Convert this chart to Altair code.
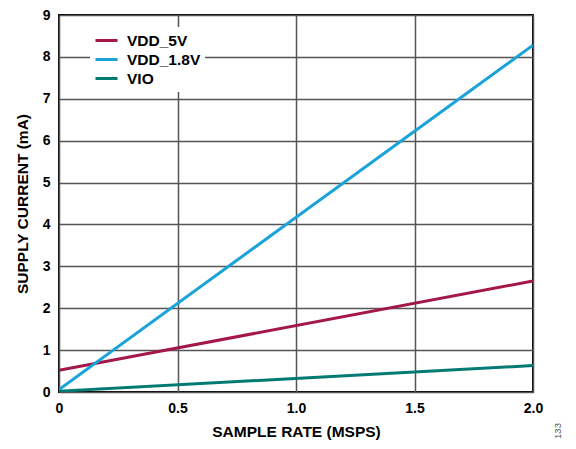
import altair as alt
import pandas as pd

sample_rate = [0.0, 2.0]
vdd_5v = [0.52, 2.65]
vdd_18v = [0.06, 8.28]
vio = [0.02, 0.63]

series_names = ["VDD_5V", "VDD_1.8V", "VIO"]
series_colors = ["#A3174B", "#1AA3D9", "#007A73"]

rows = []
for name, vals in zip(series_names, [vdd_5v, vdd_18v, vio]):
    for x, y in zip(sample_rate, vals):
        rows.append({"rate": x, "current": y, "series": name})
df = pd.DataFrame(rows)

FONT = "Liberation Sans"

lines = alt.Chart(df).mark_line(strokeWidth=3, clip=True).encode(
    x=alt.X("rate:Q", scale=alt.Scale(domain=[0, 2.0], nice=False),
            axis=alt.Axis(values=[0, 0.5, 1.0, 1.5, 2.0],
                          labelExpr="datum.value == 0 ? '0' : format(datum.value, '.1f')",
                          title="SAMPLE RATE (MSPS)", titlePadding=9)),
    y=alt.Y("current:Q", scale=alt.Scale(domain=[0, 9], nice=False),
            axis=alt.Axis(values=list(range(10)), title="SUPPLY CURRENT (mA)", titlePadding=12)),
    color=alt.Color("series:N",
                    scale=alt.Scale(domain=series_names, range=series_colors),
                    sort=series_names,
                    legend=alt.Legend(title=None, orient="none", legendX=31, legendY=12,
                                      fillColor="white", padding=4,
                                      symbolType="stroke", symbolStrokeWidth=3,
                                      symbolSize=484, labelFontSize=15.5, clipHeight=19,
                                      labelFont=FONT, labelFontWeight="bold",
                                      labelColor="black", rowPadding=0, labelOffset=8)),
)

note = alt.Chart(pd.DataFrame({"t": ["133"]})).mark_text(
    angle=270, fontSize=9.5, color="#555", font=FONT
).encode(x=alt.value(499), y=alt.value(416), text="t:N")

chart = alt.layer(lines, note).properties(
    width=474, height=377,
    autosize=alt.AutoSizeParams(type="none"),
    padding={"left": 51, "top": 7, "right": 34, "bottom": 49},
).configure_view(stroke="black", strokeWidth=2).configure_axis(
    grid=True, gridColor="#555555", gridWidth=1.5, gridOpacity=1,
    domain=False, ticks=False,
    labelFont=FONT, labelFontSize=14, labelFontWeight="bold", labelColor="black",
    labelPadding=9,
    titleFont=FONT, titleFontSize=15.5, titleFontWeight="bold", titleColor="black",
).configure_axisX(labelFlush=False)

chart.save("out.html", embed_options={"renderer": "svg", "actions": False})
